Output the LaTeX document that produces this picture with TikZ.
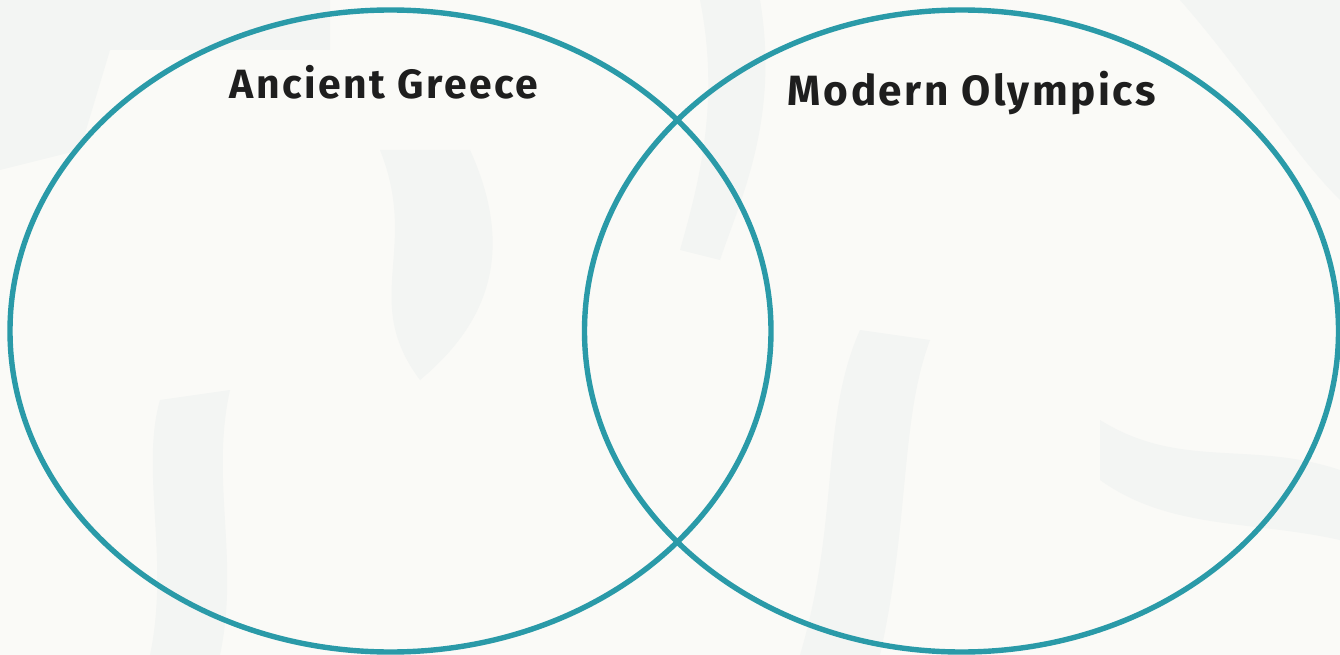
\documentclass[tikz,border=0pt]{standalone}
\usepackage{fontspec}
\setmainfont{Fira Sans}
\newfontfamily\titlefont{Fira Sans Bold}[LetterSpace=6]
\definecolor{bgc}{HTML}{FAFAF7}
\definecolor{blobc}{HTML}{F3F5F3}
\definecolor{ringc}{HTML}{2A9AA8}
\definecolor{txtc}{HTML}{1E1E1E}
\tikzset{
  ring/.style={draw=ringc, line width=5.4pt},
  title/.style={text=txtc, inner sep=0pt, anchor=base}
}
\begin{document}
\begin{tikzpicture}[x=1pt,y=-1pt]
\fill[bgc] (0,0) rectangle (1340,655);
\useasboundingbox (0,0) rectangle (1340,655);
% faint background blobs
\fill[blobc] (0,0) -- (330,0) -- (330,50) -- (110,50) -- (80,150) -- (0,170) -- cycle;
\fill[blobc] (380,150) .. controls (420,250) and (360,300) .. (420,380) .. controls (480,330) and (520,260) .. (470,150) -- cycle;
\fill[blobc] (230,390) .. controls (210,480) and (240,560) .. (220,655) -- (150,655) .. controls (170,560) and (140,470) .. (160,400) -- cycle;
\fill[blobc] (700,0) -- (760,0) .. controls (780,120) and (740,200) .. (720,260) -- (680,250) .. controls (700,180) and (720,100) .. (700,0) -- cycle;
\fill[blobc] (860,330) .. controls (820,420) and (840,520) .. (800,655) -- (880,655) .. controls (910,520) and (900,420) .. (930,340) -- cycle;
\fill[blobc] (1180,0) -- (1340,0) -- (1340,200) .. controls (1290,150) and (1250,80) .. (1180,0) -- cycle;
\fill[blobc] (1100,420) .. controls (1180,470) and (1250,440) .. (1340,470) -- (1340,540) .. controls (1250,520) and (1170,530) .. (1100,480) -- cycle;
% circles
\draw[ring] (390.5,331) ellipse [x radius=380.5, y radius=321];
\draw[ring] (961.5,331) ellipse [x radius=377, y radius=321];
% titles
\node[title] (ag) at (384,99) {\resizebox{308pt}{!}{\titlefont Ancient Greece}};
\node[title] (mo) at (972,106) {\resizebox{368pt}{!}{\titlefont Modern Olympics}};
\end{tikzpicture}
\end{document}
